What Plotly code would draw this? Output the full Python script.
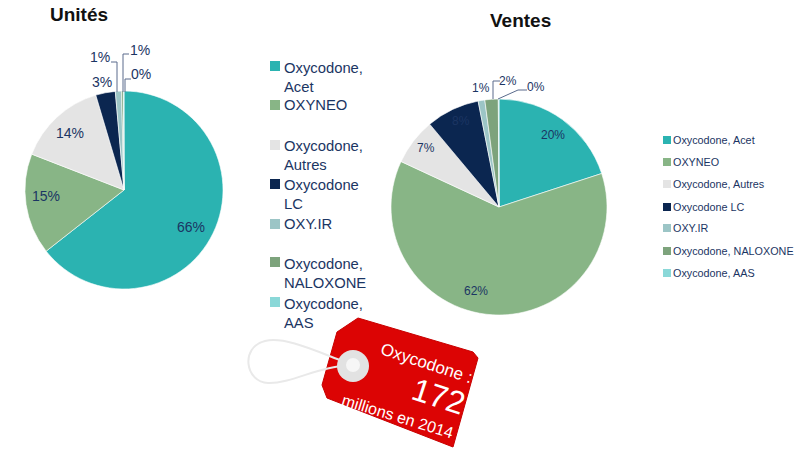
import plotly.graph_objects as go

W, H = 800, 450
FONT = "Liberation Sans, Arial"
NAVY = "#1b3563"

# Data
names = ["Oxycodone, Acet", "OXYNEO", "Oxycodone, Autres", "Oxycodone LC",
         "OXY.IR", "Oxycodone, NALOXONE", "Oxycodone, AAS"]
wrapped_names = ["Oxycodone,<br>Acet", "OXYNEO", "Oxycodone,<br>Autres", "Oxycodone<br>LC",
                 "OXY.IR", "Oxycodone,<br>NALOXONE", "Oxycodone,<br>AAS"]
unites_values = [64.4, 16.5, 14.5, 3.2, 1.0, 0.3, 0.1]
unites_labels = ["66%", "15%", "14%", "3%", "1%", "1%", "0%"]
ventes_values = [20, 62, 7, 8, 1, 2, 0.1]
ventes_labels = ["20%", "62%", "7%", "8%", "1%", "2%", "0%"]
colors = ["#2bb3b1", "#88b586", "#e4e4e4", "#0b2650", "#9cc5c6", "#7da37c", "#8ad8d8"]


def px_x(x):
    return x / W


def px_y(y):
    return 1 - y / H


def pie_domain(cx, cy, r):
    return dict(x=[px_x(cx - r), px_x(cx + r)], y=[px_y(cy + r), px_y(cy - r)])


def text(x, y, s, size, color=NAVY, angle=0, anchor="center", family=FONT):
    return dict(x=px_x(x), y=px_y(y), xref="paper", yref="paper", text=s, showarrow=False,
                xanchor=anchor, yanchor="middle", textangle=angle, align=anchor,
                font=dict(family=family, size=size, color=color))


def path_shape(points, color="#5a6b8c", width=1):
    d = "M " + " L ".join(f"{px_x(x)},{px_y(y)}" for x, y in points)
    return dict(type="path", xref="paper", yref="paper", path=d, line=dict(color=color, width=width))


def rect(x0, y0, x1, y1, color):
    return dict(type="rect", xref="paper", yref="paper", x0=px_x(x0), x1=px_x(x1),
                y0=px_y(y0), y1=px_y(y1), fillcolor=color, line=dict(width=0))


def circle(cx, cy, r, color):
    return rect(cx - r, cy - r, cx + r, cy + r, color) | dict(type="circle")


fig = go.Figure()
fig.add_trace(go.Pie(values=unites_values, labels=names, sort=False, direction="clockwise", rotation=0,
                     textinfo="none", hoverinfo="label+percent", domain=pie_domain(124, 190, 99),
                     marker=dict(colors=colors, line=dict(color="white", width=0.6))))
fig.add_trace(go.Pie(values=ventes_values, labels=names, sort=False, direction="clockwise", rotation=0,
                     textinfo="none", hoverinfo="label+percent", domain=pie_domain(499, 207, 108),
                     marker=dict(colors=colors, line=dict(color="white", width=0.6))))

annotations = [
    text(79, 15, "<b>Unités</b>", 19, "#111111"),
    text(520, 21, "<b>Ventes</b>", 19, "#111111"),
]

# percent labels, in the order of the slices
unites_pos = [(191, 227), (46, 196), (70, 133), (102, 82), (100, 57), (140, 50), (141, 74)]
ventes_pos = [(553, 135), (476, 291), (426, 148), (461, 121), (481, 88), (508, 81), (536, 87)]
for (x, y), s in zip(unites_pos, unites_labels):
    annotations.append(text(x, y, s, 14))
for (x, y), s in zip(ventes_pos, ventes_labels):
    annotations.append(text(x, y, s, 12))

shapes = [
    path_shape([(111, 62), (117, 62), (117, 92)]),
    path_shape([(129, 54), (123, 54), (123, 92)]),
    path_shape([(131, 79), (125, 79), (125, 92)]),
    path_shape([(500, 81), (493, 81), (493, 99)]),
    path_shape([(527, 90), (518, 90), (498, 99)]),
]

# left legend
left_text_y = [77, 105, 155, 194, 224, 273, 313]
left_box_y = [66, 105, 145, 184, 224, 262, 302]
for s, c, ty, by in zip(wrapped_names, colors, left_text_y, left_box_y):
    annotations.append(text(282, ty, s, 14.8, anchor="left"))
    shapes.append(rect(270, by - 5, 280, by + 5, c))

# right legend
right_y = [140, 162, 184, 207, 228, 251, 273]
for s, c, y in zip(names, colors, right_y):
    annotations.append(text(671, y, s, 10.8, anchor="left"))
    shapes.append(rect(663, y - 4, 671, y + 4, c))

# price tag
tag = [(322, 385), (337, 332), (358, 318), (473, 352), (478, 358), (453, 447), (327, 398)]
shapes.append(dict(type="path", xref="paper", yref="paper",
                   path="M " + " L ".join(f"{px_x(x)},{px_y(y)}" for x, y in tag) + " Z",
                   fillcolor="#dc0404", line=dict(color="#c80000", width=1)))
string = (f"M {px_x(345)},{px_y(362)} C {px_x(318)},{px_y(352)} {px_x(285)},{px_y(336)} {px_x(265)},{px_y(341)} "
          f"C {px_x(240)},{px_y(347)} {px_x(245)},{px_y(382)} {px_x(268)},{px_y(383)} "
          f"C {px_x(290)},{px_y(384)} {px_x(320)},{px_y(366)} {px_x(345)},{px_y(366)}")
shapes.append(dict(type="path", xref="paper", yref="paper", path=string, line=dict(color="#e9e9e9", width=2)))
shapes.append(circle(353, 366, 16, "#e2e2e2"))
shapes.append(circle(353, 365, 7, "#f6f6f6"))

annotations += [
    text(427, 363, "Oxycodone :", 17, "white", angle=18),
    text(438, 396, "172", 32, "white", angle=18),
    text(398, 416, "millions en 2014", 16, "white", angle=17),
]

fig.update_layout(width=W, height=H, margin=dict(l=0, r=0, t=0, b=0), showlegend=False,
                  paper_bgcolor="white", plot_bgcolor="white",
                  shapes=shapes, annotations=annotations)
# the default page has an 8px body margin, which would push the chart off the window
fig.write_html("out.html", config={"displayModeBar": False},
               post_script="document.body.style.margin = '0';")
